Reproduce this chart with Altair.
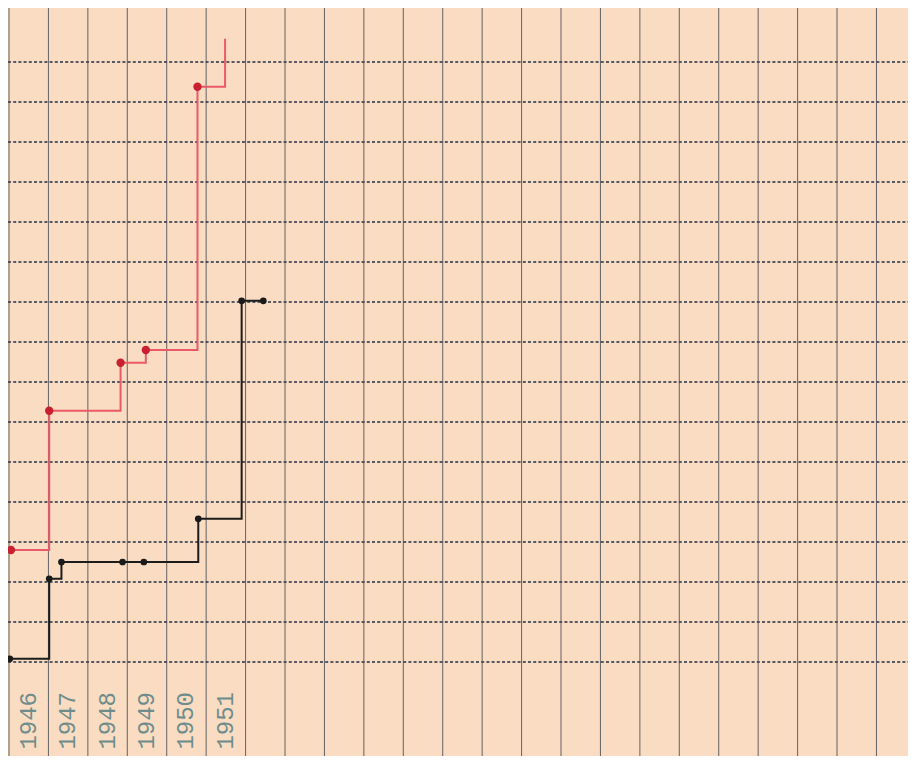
import altair as alt
import pandas as pd

# ---- data (y in grid units, 0 = lowest dashed line) ----
grid_years = list(range(1946, 1970))          # vertical ruled lines (year boundaries)
grid_levels = list(range(0, 16))              # horizontal dotted lines
label_years = [1946, 1947, 1948, 1949, 1950, 1951]

black_x = [1946.02, 1947.02, 1947.33, 1948.88, 1949.42, 1950.80, 1951.90, 1952.45]
black_y = [0.08, 2.08, 2.50, 2.50, 2.50, 3.58, 9.03, 9.03]
black_dot = [True, True, True, True, True, True, True, True]

red_x = [1946.05, 1947.02, 1948.83, 1949.47, 1950.78, 1951.48]
red_y = [2.80, 6.28, 7.48, 7.80, 14.38, 15.58]
red_dot = [True, True, True, True, True, False]

# ---- layout ----
W, H = 900, 748
PX_PER_YEAR = 39.43
X0 = 1946 - 1 / PX_PER_YEAR
X1 = X0 + W / PX_PER_YEAR
Y_TOP = 654 / 40
Y_BOT = (654 - H) / 40
PAPER = "#f9dcc1"

xs = alt.Scale(domain=[X0, X1], nice=False, zero=False)
ys = alt.Scale(domain=[Y_BOT, Y_TOP], nice=False, zero=False)

grid_v = pd.DataFrame({"x": grid_years})
grid_h = pd.DataFrame({"y": grid_levels})
labels = pd.DataFrame({"x": [y + 0.5 for y in label_years],
                       "y": [-1.47] * len(label_years),
                       "t": [str(y) for y in label_years]})
black = pd.DataFrame({"x": black_x, "y": black_y, "dot": black_dot, "i": range(len(black_x))})
red = pd.DataFrame({"x": red_x, "y": red_y, "dot": red_dot, "i": range(len(red_x))})

vlines = alt.Chart(grid_v).mark_rule(color="#4a4d55", strokeWidth=1, opacity=0.85).encode(
    x=alt.X("x:Q", scale=xs, axis=None),
    y=alt.value(0), y2=alt.value(H),
)

hlines = alt.Chart(grid_h).mark_rule(color="#3c4254", strokeWidth=1.8, strokeDash=[3, 2.2],
                                     opacity=0.85).encode(
    y=alt.Y("y:Q", scale=ys, axis=None),
    x=alt.value(0), x2=alt.value(W),
)

text = alt.Chart(labels).mark_text(angle=270, font="Liberation Mono", fontSize=24,
                                   color="#6f8c8c", align="center", baseline="middle").encode(
    x=alt.X("x:Q", scale=xs, axis=None),
    y=alt.Y("y:Q", scale=ys, axis=None),
    text="t:N",
)

black_line = alt.Chart(black).mark_line(interpolate="step-after", color="#1c1c1c",
                                        strokeWidth=2).encode(
    x=alt.X("x:Q", scale=xs, axis=None),
    y=alt.Y("y:Q", scale=ys, axis=None),
    order="i:Q",
)
black_pts = alt.Chart(black).transform_filter("datum.dot").mark_circle(
    color="#1a1a1a", size=45, opacity=1).encode(
    x=alt.X("x:Q", scale=xs, axis=None),
    y=alt.Y("y:Q", scale=ys, axis=None),
)

red_line = alt.Chart(red).mark_line(interpolate="step-after", color="#ea5a66",
                                    strokeWidth=2).encode(
    x=alt.X("x:Q", scale=xs, axis=None),
    y=alt.Y("y:Q", scale=ys, axis=None),
    order="i:Q",
)
red_pts = alt.Chart(red).transform_filter("datum.dot").mark_circle(
    color="#c8202e", size=70, opacity=1).encode(
    x=alt.X("x:Q", scale=xs, axis=None),
    y=alt.Y("y:Q", scale=ys, axis=None),
)

chart = alt.layer(vlines, hlines, text, black_line, red_line, black_pts, red_pts).properties(
    width=W, height=H, padding=0, background=PAPER,
    autosize=alt.AutoSizeParams(type="none"),
).configure_view(strokeWidth=0, fill=PAPER)

chart.save("out.html", embed_options={"renderer": "svg", "actions": False})
